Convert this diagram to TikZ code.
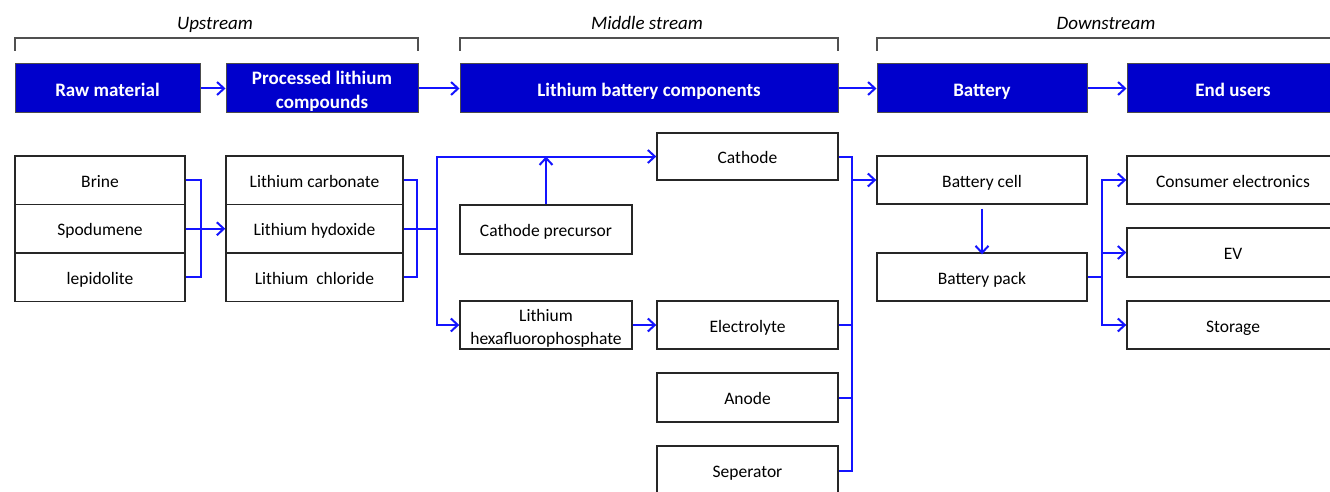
\documentclass[tikz,border=0pt]{standalone}
\usepackage{fontspec}
\setmainfont{Carlito}
\usetikzlibrary{arrows.meta}
\definecolor{hdrblue}{RGB}{0,0,204}
\definecolor{lnblue}{RGB}{20,20,255}
\definecolor{brk}{RGB}{80,80,80}
\tikzset{
  hdr/.style={draw=black!70,line width=1pt,fill=hdrblue,text=white,font=\fontsize{19}{24}\selectfont\bfseries,align=center,inner sep=0pt,minimum height=49pt},
  bx/.style={draw=black!85,line width=1.4pt,fill=white,font=\fontsize{17.5}{23}\selectfont,align=center,inner sep=0pt},
  onehdr/.style={text height=16.5pt,text depth=0.5pt},
  onebx/.style={text height=14.5pt,text depth=0.5pt},
  lbl/.style={font=\fontsize{19}{24}\selectfont\itshape,inner sep=0pt,anchor=base},
  conn/.style={draw=lnblue,line width=2pt},
  arr/.style={conn,-{Straight Barb[length=7pt,width=13pt,line width=2pt]}},
  bracket/.style={draw=brk,line width=1.2pt}
}
\begin{document}
\begin{tikzpicture}[x=1pt,y=-1pt]
\useasboundingbox (0,0) rectangle (1330,492);
\clip (0,0) rectangle (1330,492);
% stage labels and brackets
\node[lbl] (up) at (215,29.5) {Upstream};
\node[lbl] (mid) at (647,29.5) {Middle stream};
\node[lbl] (down) at (1106,29.5) {Downstream};
\draw[bracket] (15,51) -- (15,38) -- (418,38) -- (418,51);
\draw[bracket] (460,51) -- (460,38) -- (838,38) -- (838,51);
\draw[bracket] (877,51) -- (877,38) -- (1345,38);
% header boxes
\node[hdr,onehdr,minimum width=185pt] (raw) at (107.5,88.5) {Raw material};
\node[hdr,minimum width=192pt] (proc) at (322,88.5) {\rule{0pt}{18pt}Processed lithium\\compounds};
\node[hdr,onehdr,minimum width=378pt] (comp) at (649,88.5) {Lithium battery components};
\node[hdr,onehdr,minimum width=210pt] (batt) at (982,88.5) {Battery};
\node[hdr,onehdr,minimum width=212pt] (endu) at (1233,88.5) {End users};
\draw[arr] (raw.east) -- (proc.west);
\draw[arr] (proc.east) -- (comp.west);
\draw[arr] (comp.east) -- (batt.west);
\draw[arr] (batt.east) -- (endu.west);
% raw materials
\node[bx,onebx,minimum width=170pt,minimum height=48.5pt] (brine) at (100,180.25) {Brine};
\node[bx,onebx,minimum width=170pt,minimum height=48.5pt] (spod) at (100,228.75) {Spodumene};
\node[bx,onebx,minimum width=170pt,minimum height=48.5pt] (lepi) at (100,277.25) {lepidolite};
% processed compounds
\node[bx,onebx,minimum width=177pt,minimum height=48.5pt] (lcarb) at (314.5,180.25) {Lithium carbonate};
\node[bx,onebx,minimum width=177pt,minimum height=48.5pt] (lhyd) at (314.5,228.75) {Lithium hydoxide};
\node[bx,onebx,minimum width=177pt,minimum height=48.5pt] (lchl) at (314.5,277.25) {Lithium\ \ chloride};
% components
\node[bx,onebx,minimum width=181pt,minimum height=47pt] (cath) at (747.5,156.5) {Cathode};
\node[bx,onebx,minimum width=172pt,minimum height=49pt] (prec) at (546,229.5) {Cathode precursor};
\node[bx,minimum width=172pt,minimum height=48pt] (lipf) at (546,325) {\rule{0pt}{18pt}Lithium\\hexafluorophosphate};
\node[bx,onebx,minimum width=181pt,minimum height=48pt] (elec) at (747.5,325) {Electrolyte};
\node[bx,onebx,minimum width=181pt,minimum height=49pt] (anode) at (747.5,397.5) {Anode};
\node[bx,onebx,minimum width=181pt,minimum height=49pt] (sep) at (747.5,470.5) {Seperator};
% battery
\node[bx,onebx,minimum width=210pt,minimum height=48pt] (cell) at (982,180) {Battery cell};
\node[bx,onebx,minimum width=210pt,minimum height=48pt] (pack) at (982,277) {Battery pack};
% end users
\node[bx,onebx,minimum width=212pt,minimum height=48pt] (cons) at (1233,180) {Consumer electronics};
\node[bx,onebx,minimum width=212pt,minimum height=49pt] (ev) at (1233,252.5) {EV};
\node[bx,onebx,minimum width=212pt,minimum height=48pt] (stor) at (1233,325) {Storage};
% connectors: raw -> compounds
\draw[conn] (brine.east) -- ++(15,0) coordinate (rb) |- (lepi.east);
\draw[arr] (spod.east) -- (lhyd.west);
% compounds -> components
\draw[conn] (lcarb.east) -- ++(13,0) |- (lchl.east);
\draw[conn] (lhyd.east) -- ++(33,0) coordinate (j1);
\draw[arr] (j1) |- (cath.west);
\draw[arr] (j1) |- (lipf.west);
\draw[arr] (prec.north) -- (prec.north |- cath.west);
\draw[arr] (lipf.east) -- (elec.west);
% components -> battery
\draw[conn] (cath.east) -- ++(13,0) coordinate (b1) -- (b1 |- sep.east) -- (sep.east);
\draw[conn] (elec.east) -- (elec.east -| b1);
\draw[conn] (anode.east) -- (anode.east -| b1);
\draw[arr] (b1 |- cell.west) -- (cell.west);
\draw[arr] ([yshift=-4pt]cell.south) -- ([yshift=-2pt]pack.north);
% battery -> end users
\draw[conn] (pack.east) -- ++(14,0) coordinate (b2);
\draw[arr] (b2) |- (cons.west);
\draw[arr] (b2) |- (ev.west);
\draw[arr] (b2) |- (stor.west);
\end{tikzpicture}
\end{document}
